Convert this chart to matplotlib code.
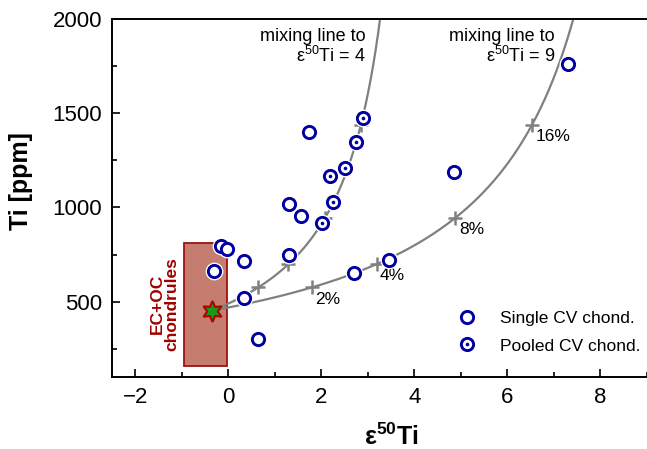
import numpy as np
import matplotlib
matplotlib.use('Agg')
import matplotlib.pyplot as plt
from matplotlib.patches import Rectangle
from matplotlib.ticker import MultipleLocator

plt.rcParams['font.family'] = ['Liberation Sans', 'DejaVu Sans']
plt.rcParams['mathtext.fontset'] = 'custom'
plt.rcParams['mathtext.rm'] = 'Liberation Sans'
plt.rcParams['mathtext.bf'] = 'Liberation Sans:bold'

# single CV chondrules
single_x = [7.30, 4.85, 1.74, 1.30, 1.57, 1.30, -0.15, -0.02, 0.34, -0.30, 0.34, 0.64, 2.70, 3.45]
single_y = [1761, 1186, 1399, 1016, 957, 745, 793, 777, 713, 665, 521, 303, 654, 723]
# pooled CV chondrules
pooled_x = [2.89, 2.74, 2.51, 2.19, 2.26, 2.02]
pooled_y = [1473, 1346, 1207, 1165, 1027, 915]

# EC+OC chondrule field and mixing endmembers
ecoc_x = [-0.95, -0.03]
ecoc_y = [160, 810]
start_eps, start_ti = -0.36, 452
end_ti = 6620
end_eps = [4, 9]
mix_frac = [0.02, 0.04, 0.08, 0.16]
mix_labels = ['2%', '4%', '8%', '16%']

blue = '#0000a0'
grey = '#808080'
dred = '#a01010'


def mix(f, eps_e):
    ti = (1 - f) * start_ti + f * end_ti
    eps = ((1 - f) * start_ti * start_eps + f * end_ti * eps_e) / ti
    return eps, ti


fig = plt.figure(figsize=(6.47, 4.49), dpi=100)
ax = fig.add_axes([112/647, 1 - 377/449, 1 - 112/647, (377 - 19)/449])

ax.add_patch(Rectangle((ecoc_x[0], ecoc_y[0]), ecoc_x[1] - ecoc_x[0], ecoc_y[1] - ecoc_y[0],
                       facecolor='#c47d6e', edgecolor=dred, lw=1.3, zorder=1))
ax.text(-1.36, 489, 'EC+OC\nchondrules', rotation=90, ha='center', va='center',
        color='#a00000', fontsize=12.5, fontweight='bold', linespacing=0.95)

f = np.linspace(0, 0.3, 400)
for e in end_eps:
    ex, ey = mix(f, e)
    ax.plot(ex, ey, color=grey, lw=1.6, zorder=2)
    tx, ty = mix(np.array(mix_frac), e)
    ax.plot(tx, ty, '+', color=grey, ms=10, mew=1.8, zorder=2)
    if e == 9:
        for xx, yy, lab in zip(tx, ty, mix_labels):
            ax.annotate(lab, (xx, yy), xytext=(2.5, -3), textcoords='offset points',
                        ha='left', va='top', fontsize=12.5)

ax.plot(start_eps, start_ti, marker=(6, 1, 0), ms=15, color='#1a9a1a',
        mec='#b00000', mew=1.5, zorder=3, ls='none')

# white halo behind circles
ax.plot(single_x + pooled_x, single_y + pooled_y, 'o', ms=12.8, color='white', mew=0, zorder=4)
h1, = ax.plot(single_x, single_y, 'o', ms=8.8, mfc='white', mec=blue, mew=2.1, zorder=5, ls='none')
h2, = ax.plot(pooled_x, pooled_y, 'o', ms=8.8, mfc='white', mec=blue, mew=2.1, zorder=5, ls='none')
h3, = ax.plot(pooled_x, pooled_y, 'o', ms=2.6, color=blue, mew=0, zorder=6, ls='none')

ax.text(0.4748, 0.975, 'mixing line to\nε$^{50}$Ti = 4', transform=ax.transAxes,
        ha='right', va='top', fontsize=13, linespacing=1.05)
ax.text(0.828, 0.975, 'mixing line to\nε$^{50}$Ti = 9', transform=ax.transAxes,
        ha='right', va='top', fontsize=13, linespacing=1.05)

ax.legend([h1, (h2, h3)], ['Single CV chond.', 'Pooled CV chond.'],
          loc='upper left', bbox_to_anchor=(0.645, 0.185), frameon=False,
          fontsize=12.5, handlelength=1.2, handletextpad=1.3, labelspacing=0.72,
          borderpad=0, borderaxespad=0)

ax.set_xlim(-2.5, 9)
ax.set_ylim(100, 2000)
ax.xaxis.set_major_locator(MultipleLocator(2))
ax.xaxis.set_minor_locator(MultipleLocator(1))
ax.yaxis.set_major_locator(MultipleLocator(500))
ax.yaxis.set_minor_locator(MultipleLocator(250))
ax.tick_params(which='both', direction='in', width=1.2, labelsize=16, top=False, right=False)
ax.tick_params(which='major', length=6, pad=7)
ax.tick_params(which='minor', length=3.5)
for s in ['left', 'bottom', 'top']:
    ax.spines[s].set_linewidth(1.4)
ax.spines['right'].set_visible(False)

fig.text(391/647, 1 - 445/449, r'ε$^{\mathbf{50}}$Ti', ha='center', va='baseline',
         fontsize=18, fontweight='bold')
fig.text(21/647, 1 - 181/449, 'Ti [ppm]', rotation=90, ha='center', va='center',
         fontsize=18, fontweight='bold')

fig.savefig('out.png', dpi=100)
